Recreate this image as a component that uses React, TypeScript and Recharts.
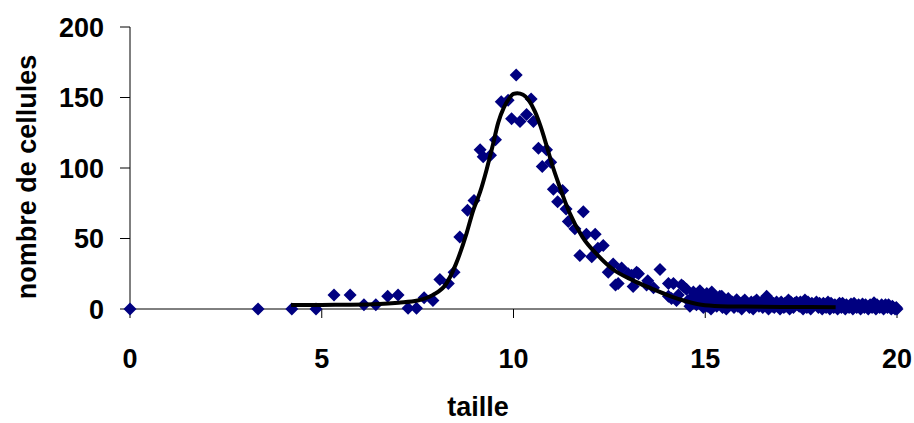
import { Label, Scatter, ScatterChart, XAxis, YAxis } from "recharts";

const NAVY = "#000080";
const FONT = "'Liberation Sans', Arial, sans-serif";

const xTicks = [0, 5, 10, 15, 20];
const yTicks = [0, 50, 100, 150, 200];

// measured cells: [taille, nombre]
const cells: [number, number][] = [
  [0, 0], [3.34, 0], [4.22, 0], [4.85, 0], [5.32, 10], [5.74, 10], [6.1, 3], [6.41, 3],
  [6.72, 9], [6.99, 10], [7.25, 0.5], [7.47, 0.5], [7.67, 8], [7.9, 6], [8.08, 21], [8.3, 18],
  [8.45, 26], [8.6, 51], [8.8, 70], [8.97, 77], [9.13, 113], [9.21, 108], [9.4, 109], [9.53, 120],
  [9.68, 147], [9.86, 148], [9.95, 135], [10.07, 166], [10.17, 133], [10.34, 138], [10.46, 149],
  [10.52, 133], [10.65, 114], [10.75, 101], [10.86, 113], [10.97, 104], [11.04, 85], [11.15, 76],
  [11.28, 84], [11.37, 71], [11.43, 62], [11.6, 57], [11.73, 38], [11.82, 69], [11.9, 53],
  [12.04, 37], [12.13, 53], [12.2, 43], [12.34, 45], [12.47, 26], [12.6, 32], [12.66, 17],
  [12.73, 18], [12.82, 29], [12.99, 25], [13.08, 24], [13.12, 16], [13.21, 26], [13.26, 25],
  [13.47, 17], [13.5, 20], [13.65, 15], [13.82, 28], [14.04, 18], [14.04, 9], [14.12, 7.5],
  [14.17, 18], [14.25, 6], [14.3, 10], [14.38, 17], [14.43, 16], [14.51, 14], [14.55, 6],
  [14.6, 2], [14.65, 8], [14.69, 12], [14.73, 9], [14.77, 3], [14.8, 6], [14.86, 13],
];

// dense tail of small counts
const tail: [number, number][] = [
  [14.9, 4], [14.95, 1], [15.0, 7], [15.04, 11], [15.05, 2], [15.1, 5], [15.15, 0], [15.17, 12],
  [15.21, 10], [15.25, 6], [15.3, 2], [15.35, 4], [15.38, 9], [15.43, 9], [15.45, 1], [15.5, 6],
  [15.55, 0], [15.6, 7.5], [15.65, 3], [15.7, 5], [15.75, 1], [15.82, 6.5], [15.85, 2], [15.9, 4],
  [15.95, 0], [16.03, 6.4], [16.1, 3], [16.15, 1], [16.2, 5], [16.25, 0], [16.34, 6.4], [16.4, 2],
  [16.45, 4], [16.5, 1], [16.55, 3], [16.6, 9], [16.65, 0], [16.7, 4], [16.75, 2], [16.8, 1],
  [16.86, 5], [16.9, 3], [16.95, 0], [17.0, 4], [17.05, 1], [17.1, 2], [17.17, 6.4], [17.2, 0],
  [17.25, 3], [17.3, 1], [17.38, 5], [17.45, 2], [17.5, 4], [17.55, 0], [17.6, 6.4], [17.65, 1],
  [17.7, 3], [17.75, 0], [17.8, 2], [17.9, 5], [17.95, 1], [18.0, 3], [18.05, 0], [18.1, 2],
  [18.15, 1], [18.2, 5], [18.25, 0], [18.3, 3], [18.35, 1], [18.4, 2], [18.45, 0], [18.5, 4],
  [18.55, 1], [18.6, 3], [18.65, 0], [18.7, 2], [18.75, 1], [18.8, 3.5], [18.85, 0], [18.9, 2],
  [18.95, 1], [19.0, 3], [19.05, 0], [19.1, 3.5], [19.15, 1], [19.2, 2], [19.25, 0], [19.3, 3],
  [19.35, 1], [19.4, 4.5], [19.45, 0], [19.5, 2], [19.55, 1], [19.6, 3], [19.65, 0], [19.7, 3],
  [19.75, 1], [19.8, 2], [19.85, 0], [19.9, 1], [19.95, 0], [20.0, 0],
];

// extra tail readings between the above
const tailFill: [number, number][] = [
  [14.92, 8], [15.02, 4], [15.12, 8], [15.27, 3], [15.33, 7], [15.47, 4], [15.52, 3], [15.62, 5],
  [15.72, 3], [15.78, 5], [15.88, 3], [15.98, 5], [16.07, 4], [16.17, 3], [16.28, 5], [16.37, 3],
  [16.48, 5], [16.58, 4], [16.68, 6], [16.78, 4], [16.88, 2], [16.98, 5], [17.08, 4], [17.13, 3],
  [17.23, 5], [17.33, 4], [17.42, 3], [17.48, 5], [17.58, 3], [17.68, 5], [17.78, 4], [17.85, 3],
  [17.98, 4], [18.08, 4], [18.12, 3], [18.22, 3], [18.28, 4], [18.38, 3], [18.48, 2], [18.58, 4],
  [18.68, 3], [18.78, 2], [18.88, 4], [18.98, 2], [19.08, 2], [19.18, 3], [19.28, 2], [19.38, 3],
  [19.48, 3], [19.58, 2], [19.68, 2], [19.78, 3], [19.88, 2], [19.98, 1],
];

// fitted curve
const fit: [number, number][] = [
  [4.2, 2.8], [5.0, 2.9], [5.75, 3.0], [6.5, 3.5], [7.0, 4.5], [7.5, 6], [7.9, 10], [8.25, 18],
  [8.5, 32], [8.78, 54], [8.95, 70], [9.13, 83], [9.3, 99], [9.45, 115], [9.6, 132], [9.75, 143],
  [9.88, 149], [10.0, 152.5], [10.1, 153], [10.25, 152], [10.4, 148], [10.56, 140], [10.7, 130],
  [10.85, 117], [11.0, 103], [11.2, 87], [11.45, 69], [11.8, 51], [12.2, 38], [12.6, 28],
  [13.1, 20.5], [13.6, 14.5], [14.1, 9], [14.5, 5.5], [14.9, 3], [15.4, 2], [16.0, 1.7],
  [17.0, 1.5], [18.4, 1.3],
];

const points = [...cells, ...tail, ...tailFill].map(([x, y]) => ({ x, y }));
const curve = fit.map(([x, y]) => ({ x, y }));

const Diamond = (p: any) => {
  const { cx, cy } = p;
  const r = 6.5;
  return <path d={`M${cx},${cy - r}L${cx + r},${cy}L${cx},${cy + r}L${cx - r},${cy}Z`} fill={NAVY} />;
};

const tickStyle = { fill: "#000", fontSize: 27, fontWeight: 700, fontFamily: FONT };
const titleStyle = { fill: "#000", fontSize: 27, fontWeight: 700, fontFamily: FONT };

export default function App() {
  return (
    <div style={{ position: "absolute", left: 0, top: 0 }}>
      <ScatterChart width={914} height={423} margin={{ top: 27, right: 17, bottom: 0, left: 0 }}>
        <XAxis
          type="number"
          dataKey="x"
          domain={[0, 20]}
          ticks={xTicks}
          height={114}
          tickSize={9}
          tickMargin={31}
          tick={tickStyle}
          axisLine={{ stroke: "#000" }}
          tickLine={{ stroke: "#000" }}
        >
          <Label
            content={() => (
              <text x={478} y={416} textAnchor="middle" style={titleStyle}>
                taille
              </text>
            )}
          />
        </XAxis>
        <YAxis
          type="number"
          dataKey="y"
          domain={[0, 200]}
          ticks={yTicks}
          width={130}
          tickSize={10}
          tickMargin={16}
          tick={tickStyle}
          axisLine={{ stroke: "#000" }}
          tickLine={{ stroke: "#000" }}
        >
          <Label
            content={() => (
              <text x={0} y={0} textAnchor="middle" transform="translate(36,177) rotate(-90)" style={titleStyle}>
                nombre de cellules
              </text>
            )}
          />
        </YAxis>
        <Scatter data={points} shape={<Diamond />} isAnimationActive={false} />
        <Scatter
          data={curve}
          line={{ stroke: "#000", strokeWidth: 4 }}
          lineJointType="monotoneX"
          shape={() => <g />}
          isAnimationActive={false}
        />
      </ScatterChart>
    </div>
  );
}
